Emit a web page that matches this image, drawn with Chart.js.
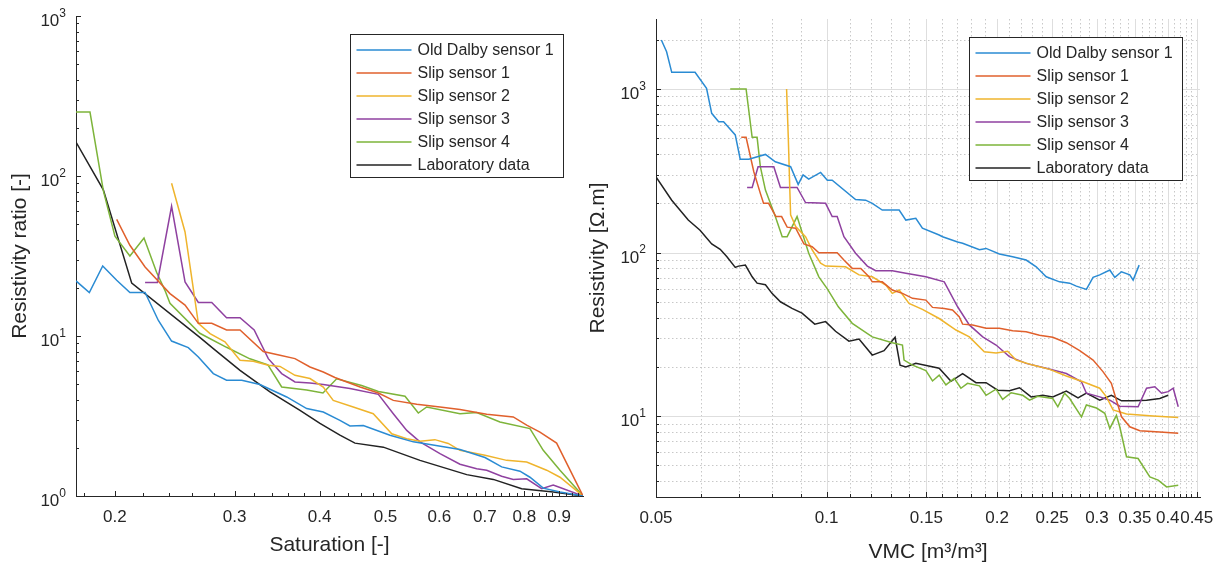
<!DOCTYPE html>
<html>
<head>
<meta charset="utf-8">
<script src="https://cdn.jsdelivr.net/npm/chart.js@4.4.1/dist/chart.umd.min.js"></script>
<style>
  html, body { margin: 0; padding: 0; background: #fff; }
  #wrap { position: relative; width: 1225px; height: 572px; }
  canvas { position: absolute; top: 0; }
  #ratioChart { left: 0; }
  #resChart { left: 580px; }
</style>
</head>
<body>
<div id="wrap">
  <canvas id="ratioChart" width="600" height="572"></canvas>
  <canvas id="resChart" width="645" height="572"></canvas>
</div>
<script>
const seriesNames = ['Old Dalby sensor 1', 'Slip sensor 1', 'Slip sensor 2', 'Slip sensor 3', 'Slip sensor 4', 'Laboratory data'];
const seriesColors = ['#2a8bd3', '#e0602c', '#efb42c', '#8f41a0', '#7db43a', '#222222'];

// left panel: saturation [-] vs resistivity ratio [-]
const ratioOldDalby = [[0.1753,22.1],[0.1834,18.7],[0.1919,27.4],[0.2012,22.3],[0.2104,18.7],[0.2215,18.7],[0.2317,12.5],[0.2423,9.3],[0.2564,8.46],[0.2653,7.39],[0.2791,5.82],[0.2919,5.29],[0.3073,5.29],[0.3268,4.97],[0.3578,4.16],[0.3829,3.52],[0.405,3.35],[0.4285,2.97],[0.4433,2.74],[0.4638,2.76],[0.5077,2.4],[0.5494,2.18],[0.615,2.02],[0.6435,1.95],[0.7003,1.74],[0.741,1.52],[0.7884,1.43],[0.8155,1.31],[0.8531,1.12],[0.9028,1.06],[0.976,1.0]];
const ratioSlip1 = [[0.2012,53.6],[0.2104,36.9],[0.2215,27],[0.241,18.4],[0.2536,15.6],[0.2653,12],[0.2776,12],[0.2919,10.9],[0.3055,10.9],[0.3305,8.0],[0.3498,7.57],[0.368,7.22],[0.3872,6.4],[0.405,5.96],[0.4213,5.5],[0.4588,4.8],[0.4881,4.4],[0.5134,3.96],[0.5558,3.74],[0.6013,3.6],[0.6435,3.47],[0.7044,3.24],[0.7707,3.12],[0.8065,2.77],[0.8435,2.51],[0.8926,2.14],[0.976,1.0]];
const ratioSlip2 = [[0.2423,90],[0.2536,44.7],[0.2653,12.0],[0.276,10.35],[0.2903,9.2],[0.3055,7.05],[0.3195,6.95],[0.3362,6.56],[0.3498,6.45],[0.368,5.68],[0.3872,5.42],[0.405,4.8],[0.4189,3.96],[0.4483,3.6],[0.4797,3.27],[0.5107,2.45],[0.5373,2.28],[0.562,2.2],[0.591,2.25],[0.6184,2.13],[0.6435,1.93],[0.7003,1.8],[0.7537,1.67],[0.8065,1.63],[0.863,1.45],[0.9028,1.31],[0.976,1.0]];
const ratioSlip3 = [[0.2215,21.6],[0.2309,21.6],[0.2423,64.7],[0.2536,21.8],[0.2653,16.2],[0.2776,16.2],[0.2919,13.0],[0.3055,13.0],[0.3205,10.9],[0.3362,7.22],[0.3518,5.82],[0.368,5.16],[0.3872,5.09],[0.405,4.97],[0.4285,4.8],[0.4433,4.69],[0.4881,4.32],[0.5134,3.27],[0.5373,2.57],[0.562,2.18],[0.6013,1.84],[0.6435,1.58],[0.6809,1.48],[0.7044,1.45],[0.741,1.33],[0.7707,1.27],[0.8065,1.28],[0.8485,1.11],[0.8824,1.17],[0.9028,1.13],[0.976,1.0]];
const ratioSlip4 = [[0.1753,251],[0.1838,251],[0.1923,81],[0.2,42],[0.2104,31.6],[0.2207,41],[0.2303,25],[0.2369,19.3],[0.241,16],[0.2666,10.4],[0.2919,8.5],[0.3159,7.2],[0.3358,6.6],[0.3518,4.8],[0.3829,4.6],[0.4046,4.4],[0.4238,5.4],[0.4612,4.9],[0.4881,4.5],[0.5342,4.2],[0.5588,3.3],[0.5748,3.6],[0.6435,3.27],[0.6809,3.32],[0.7367,2.9],[0.8155,2.64],[0.8531,1.93],[0.9028,1.45],[0.976,1.0]];
const ratioLab = [[0.1753,163],[0.1923,82],[0.2117,21.4],[0.2666,9.8],[0.2791,8.34],[0.3055,6.1],[0.3381,4.47],[0.3743,3.43],[0.4005,2.84],[0.4285,2.4],[0.4509,2.14],[0.4964,2.02],[0.562,1.67],[0.6583,1.36],[0.7203,1.27],[0.7929,1.11],[0.8824,1.06],[0.976,1.0]];

// right panel: VMC [m3/m3] vs resistivity [ohm.m]
const resOldDalby = [[0.0511,1995],[0.0522,1690],[0.0533,1265],[0.0586,1265],[0.0614,1009],[0.0627,710],[0.0645,631],[0.0658,631],[0.069,524],[0.0704,372],[0.0729,372],[0.078,398],[0.0812,359],[0.0864,335],[0.0891,261],[0.0909,298],[0.093,281],[0.0976,309],[0.1003,277],[0.1023,277],[0.1125,211],[0.1172,209],[0.1204,200],[0.1254,182],[0.1343,182],[0.138,158],[0.1437,162],[0.1476,141],[0.158,128],[0.1602,125],[0.1703,116],[0.1738,114],[0.1861,104],[0.1912,106],[0.2018,98],[0.213,94.3],[0.225,90],[0.2344,81.8],[0.2441,71.1],[0.2577,66.2],[0.2685,65],[0.2759,62.3],[0.2874,59.5],[0.2953,70.5],[0.3034,73],[0.3161,78.2],[0.3226,70.5],[0.3315,76.3],[0.3428,73],[0.3475,67.9],[0.3561,83.8]];
const resSlip1 = [[0.0707,507],[0.0721,507],[0.0744,312],[0.0764,230],[0.0774,200],[0.079,200],[0.0814,166],[0.0833,166],[0.0852,143],[0.0882,141],[0.0912,113],[0.0943,108.5],[0.0969,99.7],[0.1044,99.7],[0.1073,90],[0.111,80],[0.1149,80],[0.1188,71.1],[0.1204,66.2],[0.1254,66.2],[0.1306,59],[0.1361,56.3],[0.1418,52.5],[0.1497,51.2],[0.1538,46.2],[0.1613,45.5],[0.1668,44.5],[0.1714,40.5],[0.1738,36.5],[0.181,36],[0.1912,34.4],[0.2018,34.4],[0.213,33.2],[0.225,32.8],[0.2375,31.2],[0.2507,30.3],[0.2649,28.1],[0.2797,25.1],[0.2953,22],[0.3074,18.7],[0.3181,15.85],[0.3247,12.5],[0.3315,9.9],[0.3428,8.6],[0.3571,8.13],[0.3873,8.0],[0.4174,7.84]];
const resSlip2 = [[0.085,1000],[0.0856,500],[0.0861,250],[0.0864,170],[0.0882,144],[0.0918,125],[0.0943,104],[0.0976,86],[0.0996,82.6],[0.108,81.8],[0.1141,73],[0.1204,71.1],[0.1272,63.2],[0.1306,56.3],[0.1343,59],[0.1398,48.9],[0.1476,44.9],[0.158,39.5],[0.1692,33.6],[0.1786,30.5],[0.1898,24.7],[0.1991,24.3],[0.2087,24.9],[0.216,22],[0.2311,20.5],[0.2475,19.3],[0.2649,17.6],[0.2835,16.2],[0.3034,14.8],[0.3118,13.1],[0.3203,10.9],[0.3383,10.3],[0.377,10.0],[0.4174,9.8]];
const resSlip3 = [[0.0724,250],[0.0739,250],[0.0757,335],[0.0807,335],[0.0829,250],[0.0887,250],[0.0918,202],[0.0996,200],[0.1023,166],[0.1044,166],[0.1073,125],[0.1125,99],[0.118,82.6],[0.1221,77.4],[0.1306,77.4],[0.138,74.7],[0.1497,71.1],[0.1613,66.2],[0.1703,46.6],[0.1786,36.1],[0.1886,30.5],[0.1991,27.2],[0.2102,23.1],[0.225,21],[0.2441,19.6],[0.2649,18.2],[0.2817,16.2],[0.2874,13.8],[0.3034,13.1],[0.3161,12.5],[0.3291,11.5],[0.3546,11.4],[0.367,14.8],[0.3796,15.1],[0.3901,13.8],[0.4007,14.1],[0.409,14.8],[0.4174,11.4]];
const resSlip4 = [[0.0676,1000],[0.0721,1000],[0.0739,507],[0.0754,507],[0.0764,335],[0.078,241],[0.0812,166],[0.0835,125],[0.0852,125],[0.0887,166],[0.093,99],[0.0969,71],[0.1003,60],[0.1049,46.6],[0.111,36.9],[0.1204,30.5],[0.1306,28.1],[0.1361,27.2],[0.137,22],[0.1418,20.5],[0.1497,19],[0.1538,16.4],[0.158,17.8],[0.1624,15.5],[0.168,17],[0.1726,14.8],[0.1773,15.85],[0.1861,15.3],[0.1912,13.4],[0.1991,14.6],[0.2045,12.65],[0.2117,13.9],[0.2219,13.4],[0.2281,12.5],[0.2359,13.2],[0.2507,12.8],[0.2559,11.4],[0.263,13.8],[0.2685,12.8],[0.2817,9.9],[0.2874,11.7],[0.2994,11.2],[0.3097,10.4],[0.3161,8.4],[0.3247,10.1],[0.3291,8.6],[0.3383,5.64],[0.3546,5.5],[0.3719,4.25],[0.3847,4.06],[0.3981,3.69],[0.4174,3.78]];
const resLab = [[0.05,290],[0.0533,209],[0.057,158],[0.0598,137],[0.0627,113],[0.0649,104.6],[0.0667,94.3],[0.069,81.1],[0.0699,82.6],[0.0719,83.8],[0.0739,71.1],[0.0754,65],[0.078,63.5],[0.0801,56.3],[0.0829,50],[0.0869,45.6],[0.0905,42.6],[0.0953,36.5],[0.0996,37.8],[0.1037,33],[0.1095,28.7],[0.1141,29.6],[0.1204,23.6],[0.1263,25.1],[0.1321,30.3],[0.1348,20.5],[0.138,20],[0.1437,21],[0.158,19.6],[0.1658,16.3],[0.1738,18.2],[0.1835,16],[0.1912,16],[0.2004,14.4],[0.2102,14.3],[0.219,14.9],[0.2296,13.1],[0.2407,13.4],[0.2507,13.1],[0.2649,14.2],[0.2778,12.9],[0.2874,13.8],[0.3034,12.5],[0.3181,13.4],[0.3315,12.4],[0.3475,12.4],[0.367,12.5],[0.3873,12.8],[0.4007,13.4]];

const satTicks = [0.2, 0.3, 0.4, 0.5, 0.6, 0.7, 0.8, 0.9];
const vmcTicks = [0.05, 0.1, 0.15, 0.2, 0.25, 0.3, 0.35, 0.4, 0.45];
const ratioExponents = [0, 1, 2, 3];
const resExponents = [1, 2, 3];

const ink = '#262626';
const fontFamily = "'Liberation Sans', Arial, Helvetica, sans-serif";
Chart.defaults.font.family = fontFamily;
Chart.defaults.color = ink;

function lineSets(series) {
  return series.map((pts, i) => ({
    label: seriesNames[i],
    data: pts.map(([x, y]) => ({ x, y })),
    borderColor: seriesColors[i],
    backgroundColor: seriesColors[i],
    borderWidth: 1.5,
    pointRadius: 0,
    tension: 0,
    fill: false
  }));
}

// unlabelled minor ticks on a regular step, skipping the labelled ones
function minorSteps(from, to, step, majors) {
  const out = [];
  for (let i = Math.round(from / step); i <= Math.round(to / step); i++) {
    const v = +(i * step).toFixed(4);
    if (!majors.some(m => Math.abs(m - v) < 1e-9)) out.push(v);
  }
  return out;
}

// 2..9 x 10^k inside (lo, hi)
function decadeMinors(lo, hi) {
  const out = [];
  for (let k = Math.floor(Math.log10(lo)); k <= Math.floor(Math.log10(hi)); k++) {
    for (let m = 2; m <= 9; m++) {
      const v = m * Math.pow(10, k);
      if (v > lo && v < hi) out.push(v);
    }
  }
  return out;
}

// inward ticks, dotted/solid grid, 10^n labels and boxed legend
const axesDecor = {
  id: 'axesDecor',
  beforeDatasetsDraw(chart, args, o) {
    if (!o.grid) return;
    const { ctx, chartArea: a, scales: { x, y } } = chart;
    const px = v => Math.round(x.getPixelForValue(v)) + 0.5;
    const py = v => Math.round(y.getPixelForValue(v)) + 0.5;
    ctx.save();
    ctx.lineWidth = 1;
    ctx.setLineDash([1.5, 2.5]);
    ctx.strokeStyle = '#c8c8c8';
    ctx.beginPath();
    o.xMinor.forEach(v => { const p = px(v); ctx.moveTo(p, a.top); ctx.lineTo(p, a.bottom); });
    o.yMinor.forEach(v => { const p = py(v); ctx.moveTo(a.left, p); ctx.lineTo(a.right, p); });
    ctx.stroke();
    ctx.setLineDash([]);
    ctx.strokeStyle = '#dedede';
    ctx.beginPath();
    o.xMajor.forEach(v => { const p = px(v); if (p > a.left + 2) { ctx.moveTo(p, a.top); ctx.lineTo(p, a.bottom); } });
    o.yMajor.forEach(v => { const p = py(v); ctx.moveTo(a.left, p); ctx.lineTo(a.right, p); });
    ctx.stroke();
    ctx.restore();
  },
  afterDatasetsDraw(chart, args, o) {
    const { ctx, chartArea: a, scales: { x, y } } = chart;
    ctx.save();
    ctx.strokeStyle = ink;
    ctx.lineWidth = 1;
    ctx.beginPath();
    const xt = (vals, len) => vals.forEach(v => {
      const p = Math.round(x.getPixelForValue(v)) + 0.5;
      ctx.moveTo(p, a.bottom); ctx.lineTo(p, a.bottom - len);
    });
    const yt = (vals, len) => vals.forEach(v => {
      const p = Math.round(y.getPixelForValue(v)) + 0.5;
      ctx.moveTo(a.left, p); ctx.lineTo(a.left + len, p);
    });
    xt(o.xMajor, 5); xt(o.xMinor, 3);
    yt(o.yMajor, 5); yt(o.yMinor, 3);
    ctx.stroke();

    ctx.fillStyle = ink;
    ctx.textAlign = 'right';
    ctx.textBaseline = 'middle';
    o.exponents.forEach(k => {
      const p = y.getPixelForValue(Math.pow(10, k));
      const xr = a.left - 10;
      ctx.font = `12px ${fontFamily}`;
      ctx.fillText(String(k), xr, p - 2.5);
      const sw = ctx.measureText(String(k)).width;
      ctx.font = `17px ${fontFamily}`;
      ctx.fillText('10', xr - sw, p + 5.5);
    });
    ctx.restore();
  },
  afterDraw(chart, args, o) {
    const { ctx, chartArea: a } = chart;
    const sets = chart.data.datasets;
    ctx.save();
    ctx.font = `16px ${fontFamily}`;
    const tw = Math.max(...sets.map(d => ctx.measureText(d.label).width));
    const w = Math.round(67 + tw + 10), h = 143;
    const bx = Math.round(a.right - o.legendRight - w) + 0.5;
    const by = Math.round(a.top + o.legendTop) + 0.5;
    ctx.fillStyle = '#ffffff';
    ctx.fillRect(bx, by, w, h);
    ctx.strokeStyle = ink;
    ctx.lineWidth = 1;
    ctx.strokeRect(bx, by, w, h);
    ctx.textAlign = 'left';
    ctx.textBaseline = 'middle';
    sets.forEach((d, i) => {
      const ry = by + 15.5 + i * 23;
      ctx.strokeStyle = d.borderColor;
      ctx.lineWidth = 1.5;
      ctx.beginPath();
      ctx.moveTo(bx + 6, ry);
      ctx.lineTo(bx + 61, ry);
      ctx.stroke();
      ctx.fillStyle = ink;
      ctx.fillText(d.label, bx + 67, ry + 0.5);
    });
    ctx.restore();
  }
};

function logAxis(opts) {
  return Object.assign({
    type: 'logarithmic',
    grid: { display: false, drawTicks: false },
    border: { display: true, color: ink, width: 1 }
  }, opts);
}

function makeChart(id, series, cfg) {
  return new Chart(document.getElementById(id), {
    type: 'line',
    data: { datasets: lineSets(series) },
    options: {
      responsive: false,
      animation: false,
      devicePixelRatio: 1,
      layout: { padding: cfg.padding },
      plugins: {
        legend: { display: false },
        tooltip: { enabled: false },
        axesDecor: cfg.decor
      },
      scales: {
        x: logAxis({
          min: cfg.xMin, max: cfg.xMax,
          afterBuildTicks: s => { s.ticks = cfg.xTicks.map(v => ({ value: v })); },
          afterFit: s => { s.height = cfg.xHeight; },
          ticks: { autoSkip: false, maxRotation: 0, padding: 11, font: { size: 17 }, color: ink, callback: v => String(v) },
          title: { display: true, text: cfg.xTitle, color: ink, font: { size: 21 }, padding: { top: 0, bottom: cfg.xTitlePad } }
        }),
        y: logAxis({
          min: cfg.yMin, max: cfg.yMax,
          ticks: { display: false },
          afterFit: s => { s.width = cfg.yWidth; },
          title: { display: true, text: cfg.yTitle, color: ink, font: { size: 21 }, padding: { top: cfg.yTitlePad, bottom: 0 } }
        })
      }
    },
    plugins: [axesDecor]
  });
}

makeChart('ratioChart',
  [ratioOldDalby, ratioSlip1, ratioSlip2, ratioSlip3, ratioSlip4, ratioLab],
  {
    padding: { top: 16, right: 17, bottom: 0, left: 0 },
    xMin: 0.1753, xMax: 0.976, yMin: 1, yMax: 1000,
    xTicks: satTicks, xHeight: 76, yWidth: 76,
    xTitle: 'Saturation [-]', xTitlePad: 13.9,
    yTitle: 'Resistivity ratio [-]', yTitlePad: 7.4,
    decor: {
      grid: false,
      xMajor: satTicks,
      xMinor: minorSteps(0.18, 0.96, 0.02, satTicks),
      yMajor: ratioExponents.map(k => Math.pow(10, k)),
      yMinor: decadeMinors(1, 1000),
      exponents: ratioExponents,
      legendRight: 20, legendTop: 18
    }
  });

makeChart('resChart',
  [resOldDalby, resSlip1, resSlip2, resSlip3, resSlip4, resLab],
  {
    padding: { top: 19, right: 25, bottom: 0, left: 0 },
    xMin: 0.05, xMax: 0.456, yMin: 3.2, yMax: 2680,
    xTicks: vmcTicks, xHeight: 75, yWidth: 76,
    xTitle: 'VMC [m³/m³]', xTitlePad: 7.4,
    yTitle: 'Resistivity [Ω.m]', yTitlePad: 5.4,
    decor: {
      grid: true,
      xMajor: vmcTicks,
      xMinor: minorSteps(0.06, 0.44, 0.01, vmcTicks),
      yMajor: resExponents.map(k => Math.pow(10, k)),
      yMinor: decadeMinors(3.2, 2680),
      exponents: resExponents,
      legendRight: 18, legendTop: 18
    }
  });
</script>
</body>
</html>
